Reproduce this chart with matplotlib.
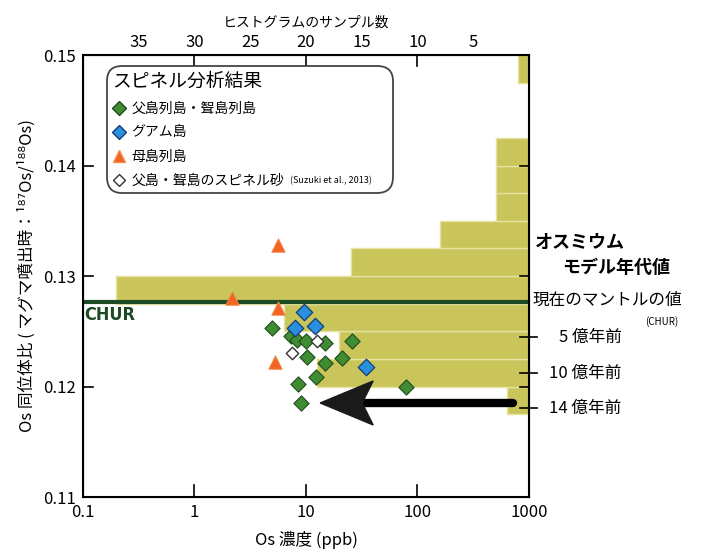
import numpy as np
import matplotlib.pyplot as plt
import matplotlib.transforms as mtransforms
from matplotlib.lines import Line2D
from matplotlib.patches import Polygon
from matplotlib.ticker import NullLocator

plt.rcParams['font.family'] = ['Noto Sans CJK JP', 'DejaVu Sans']

# --- データ ---
# ヒストグラム (Os同位体比のビン下端, サンプル数)
hist_bin_low = [0.1175, 0.1200, 0.1225, 0.1250, 0.1275, 0.1300, 0.1325,
                0.1350, 0.1375, 0.1400, 0.1425, 0.1450, 0.1475]
hist_counts = [2, 19, 17, 22, 37, 16, 8, 3, 3, 3, 0, 0, 1]
hist_bin_width = 0.0025

# 父島列島・聟島列島
chichi_os = [5.0, 7.3, 8.3, 10.0, 14.8, 25.9, 10.2, 14.8, 20.9, 12.4, 8.4, 9.0, 79.0]
chichi_ratio = [0.1253, 0.1246, 0.1242, 0.1241, 0.1239, 0.1241, 0.1227, 0.1221,
                0.1226, 0.1209, 0.1202, 0.1185, 0.1200]
# グアム島
guam_os = [9.6, 8.05, 12.0, 34.2]
guam_ratio = [0.1267, 0.1253, 0.1255, 0.1218]
# 母島列島
haha_os = [5.65, 2.19, 5.65, 5.27]
haha_ratio = [0.1328, 0.1280, 0.1271, 0.1222]
# スピネル砂 (Suzuki et al., 2013)
sand_os = [7.45, 12.5]
sand_ratio = [0.1230, 0.1241]

chur_ratio = 0.12765
age_ratio = [0.12448, 0.12122, 0.11805]
age_labels = ['5 億年前', '10 億年前', '14 億年前']

top_ticks = [35, 30, 25, 20, 15, 10, 5]
x_ticks = [0.1, 1, 10, 100, 1000]
y_ticks = [0.11, 0.12, 0.13, 0.14, 0.15]

# --- 描画 ---
fig = plt.figure(figsize=(7.01, 5.55), dpi=100)
ax = fig.add_axes([0.1184, 0.1045, 0.6362, 0.7964])
ax2 = ax.twiny()
ax.set_zorder(ax2.get_zorder() + 1)
ax.patch.set_visible(False)

# ヒストグラム (上軸: サンプル数, 右から左へ)
bin_center = np.array(hist_bin_low) + hist_bin_width / 2
ax2.barh(bin_center, hist_counts, height=hist_bin_width,
         color='#c9c55b', edgecolor='#e6e3a0', linewidth=1.0)
ax2.set_xlim(40, 0)
ax2.set_xticks(top_ticks)
ax2.set_xticklabels([str(t) for t in top_ticks], fontsize=12)
ax2.tick_params(axis='x', length=0, pad=3)
ax2.set_xlabel('ヒストグラムのサンプル数', fontsize=10, labelpad=5)

ax.set_xscale('log')
ax.set_xlim(0.1, 1000)
ax.set_ylim(0.11, 0.15)
ax.set_xticks(x_ticks)
ax.set_xticklabels(['0.1', '1', '10', '100', '1000'], fontsize=12)
ax.xaxis.set_minor_locator(NullLocator())
ax.set_yticks(y_ticks)
ax.set_yticklabels(['0.11', '0.12', '0.13', '0.14', '0.15'], fontsize=12)
ax.tick_params(length=0, pad=5)
for sp in ax.spines.values():
    sp.set_linewidth(1.5)

# 目盛り線 (内向き)
xt = ax.get_xaxis_transform()
tr = ax.get_yaxis_transform()
for v in x_ticks[1:-1]:
    ax.plot([v, v], [0, 0.027], transform=xt, color='black', lw=1.2,
            clip_on=False, zorder=6)
    ax.plot([v, v], [0.975, 1], transform=xt, color='black', lw=1.2,
            clip_on=False, zorder=6)
for v in y_ticks[1:-1]:
    ax.plot([0, 0.022], [v, v], transform=tr, color='black', lw=1.2,
            clip_on=False, zorder=6)
    ax.plot([0.98, 1], [v, v], transform=tr, color='black', lw=1.2,
            clip_on=False, zorder=6)

# 右側の年代目盛り
for r in age_ratio:
    ax.plot([0.98, 1.018], [r, r], transform=tr, color='black', lw=1.2,
            clip_on=False, zorder=6)

# CHUR
ax.axhline(chur_ratio, color='#1c4a22', lw=3, zorder=2)
ax.text(0.103, 0.12645, 'CHUR', color='#1c4a22', fontsize=13,
        fontweight='bold', va='center', ha='left', family=['DejaVu Sans'],
        fontstretch='condensed')

# 点
ax.scatter(chichi_os, chichi_ratio, marker='D', s=60, c='#3f8c33',
           edgecolors='#1f4d1c', linewidths=0.8, zorder=5)
ax.scatter(guam_os, guam_ratio, marker='D', s=70, c='#2a8fdc',
           edgecolors='#143c78', linewidths=0.9, zorder=5)
ax.scatter(haha_os, haha_ratio, marker='^', s=95, c='#f26522',
           edgecolors='#f58a50', linewidths=0.6, zorder=5)
ax.scatter(sand_os, sand_ratio, marker='D', s=40, c='white',
           edgecolors='#333333', linewidths=1.0, zorder=5)

# 矢印
arrow_tip = (13.4, 0.11851)
arrow_tail = (720, 0.11851)
ax.plot([arrow_tail[0], 30], [arrow_tail[1], arrow_tail[1]], color='black',
        lw=6, solid_capstyle='round', zorder=6)
head_trans = fig.dpi_scale_trans + mtransforms.ScaledTranslation(
    arrow_tip[0], arrow_tip[1], ax.transData)
head = Polygon([(0, 0), (0.53, 0.22), (0.42, 0.0), (0.53, -0.22)],
               closed=True, facecolor='#1a1a1a', edgecolor='#1a1a1a',
               transform=head_trans, zorder=7, clip_on=False)
ax.add_patch(head)

for r, lab in zip(age_ratio, age_labels):
    ax.text(1.208, r, lab, transform=tr, ha='right', va='center',
            fontsize=12, clip_on=False)
ax.text(1.013, 0.1330, 'オスミウム', transform=tr, ha='left', va='center',
        fontsize=13, fontweight='bold', clip_on=False)
ax.text(1.074, 0.13081, 'モデル年代値', transform=tr, ha='left', va='center',
        fontsize=13, fontweight='bold', clip_on=False)
ax.text(1.009, 0.12783, '現在のマントルの値', transform=tr, ha='left',
        va='center', fontsize=12, clip_on=False)
ax.text(1.298, 0.12584, '(CHUR)', transform=tr, ha='center', va='center',
        fontsize=7, clip_on=False)

ax.set_xlabel('Os 濃度 (ppb)', fontsize=12, labelpad=7)
ax.set_ylabel('Os 同位体比 ( マグマ噴出時：¹⁸⁷Os/¹⁸⁸Os)', fontsize=12,
              labelpad=5)

# 凡例
handles = [
    Line2D([], [], ls='none', marker='D', ms=7, mfc='#3f8c33', mec='#1f4d1c'),
    Line2D([], [], ls='none', marker='D', ms=7.5, mfc='#2a8fdc', mec='#143c78'),
    Line2D([], [], ls='none', marker='^', ms=8, mfc='#f26522', mec='#f58a50'),
    Line2D([], [], ls='none', marker='D', ms=6, mfc='white', mec='#333333'),
]
labels = ['父島列島・聟島列島', 'グアム島', '母島列島', '父島・聟島のスピネル砂']
leg = ax.legend(handles, labels, loc='upper left',
                bbox_to_anchor=(0.054, 0.2, 0.64, 0.775), mode='expand',
                borderaxespad=0, fontsize=10, title='スピネル分析結果',
                title_fontsize=13.5, alignment='left', handletextpad=0.4,
                handlelength=1.0, labelspacing=0.72, borderpad=0.35,
                fancybox=True, framealpha=1)
leg.get_frame().set_boxstyle('round,pad=0,rounding_size=1.1')
leg.get_frame().set_edgecolor('#444444')
leg.get_frame().set_linewidth(1.3)
leg.set_zorder(8)

fig.canvas.draw()
bb = leg.get_texts()[3].get_window_extent()
fig.text((bb.x1 + 6) / fig.bbox.width, (bb.y0 + bb.y1) / 2 / fig.bbox.height,
         '(Suzuki et al., 2013)', fontsize=6.5, va='center', ha='left',
         zorder=9)

fig.savefig('out.png', dpi=100)
